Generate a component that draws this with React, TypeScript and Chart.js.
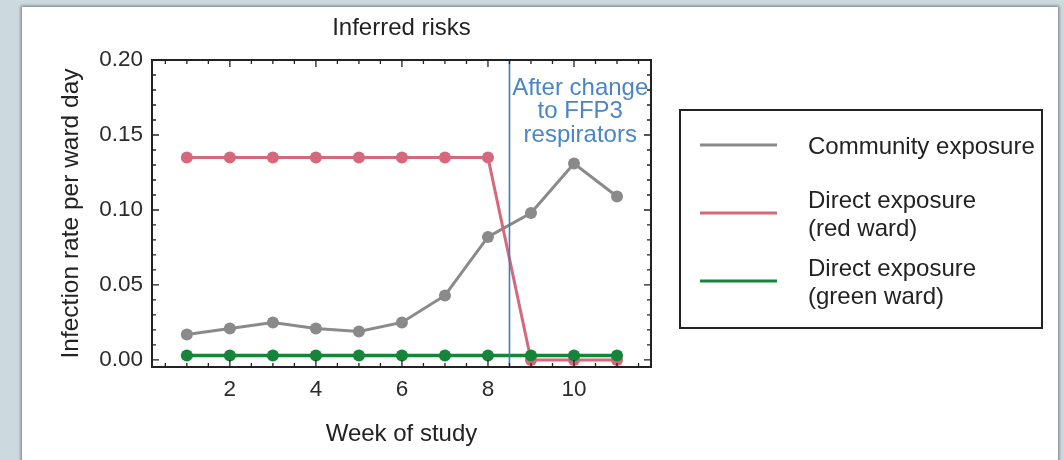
import React, { useEffect, useRef } from "react";
import { Chart, registerables } from "chart.js";

Chart.register(...registerables);

// ---- data ----
const weeks = [1, 2, 3, 4, 5, 6, 7, 8, 9, 10, 11];
const communityExposure = [0.017, 0.021, 0.025, 0.021, 0.019, 0.025, 0.043, 0.082, 0.098, 0.131, 0.109];
const redWardExposure = [0.135, 0.135, 0.135, 0.135, 0.135, 0.135, 0.135, 0.135, 0.0, 0.0, 0.0];
const greenWardExposure = [0.003, 0.003, 0.003, 0.003, 0.003, 0.003, 0.003, 0.003, 0.003, 0.003, 0.003];

const seriesNames = ["Community exposure", "Direct exposure (red ward)", "Direct exposure (green ward)"];
const legendLines = [["Community exposure"], ["Direct exposure", "(red ward)"], ["Direct exposure", "(green ward)"]];
const seriesColors = ["#8a8a8a", "#d6687b", "#16853a"];

const xTickValues = [2, 4, 6, 8, 10];
const xTickLabels = ["2", "4", "6", "8", "10"];
const yTickValues = [0, 0.05, 0.1, 0.15, 0.2];
const yTickLabels = ["0.00", "0.05", "0.10", "0.15", "0.20"];

const chartTitle = "Inferred risks";
const xAxisTitle = "Week of study";
const yAxisTitle = "Infection rate per ward day";

const changeWeek = 8.5;
const annotationLines = ["After change", "to FFP3", "respirators"];

const FONT = "'Liberation Sans', Arial, Helvetica, sans-serif";

const decorPlugin = {
  id: "decor",
  afterDatasetsDraw(chart: any) {
    const ctx = chart.ctx as CanvasRenderingContext2D;
    const { left, right, top, bottom } = chart.chartArea;
    const x = chart.scales.x;
    const y = chart.scales.y;
    ctx.save();

    // vertical change line
    const cx = x.getPixelForValue(changeWeek);
    ctx.strokeStyle = "#3e7dbf";
    ctx.lineWidth = 1.6;
    ctx.beginPath();
    ctx.moveTo(cx, top);
    ctx.lineTo(cx, bottom);
    ctx.stroke();

    // annotation text
    ctx.fillStyle = "#4a85c5";
    ctx.font = `24px ${FONT}`;
    ctx.textAlign = "center";
    ctx.textBaseline = "middle";
    const ax = (cx + right) / 2;
    annotationLines.forEach((t, i) => {
      ctx.fillText(t, ax, top + 28 + i * 23.5);
    });

    // frame
    ctx.strokeStyle = "#222";
    ctx.lineWidth = 2;
    ctx.strokeRect(left, top, right - left, bottom - top);

    // ticks (inward, all four sides)
    ctx.lineWidth = 1.3;
    ctx.beginPath();
    const xmin = x.min, xmax = x.max;
    for (let k = Math.ceil(xmin * 2); k <= Math.floor(xmax * 2); k++) {
      const v = k / 2;
      const major = xTickValues.includes(v);
      const len = major ? 7 : 4;
      const px = x.getPixelForValue(v);
      ctx.moveTo(px, bottom);
      ctx.lineTo(px, bottom - len);
      ctx.moveTo(px, top);
      ctx.lineTo(px, top + len);
    }
    for (let k = 0; k <= 20; k++) {
      const v = k / 100;
      const major = k % 5 === 0;
      const len = major ? 7 : 4;
      const py = y.getPixelForValue(v);
      ctx.moveTo(left, py);
      ctx.lineTo(left + len, py);
      ctx.moveTo(right, py);
      ctx.lineTo(right - len, py);
    }
    ctx.stroke();

    // legend
    const bx = right + 29;
    const by = top + 50;
    const bw = 362;
    const bh = 218;
    ctx.fillStyle = "#fff";
    ctx.fillRect(bx, by, bw, bh);
    ctx.strokeStyle = "#222";
    ctx.lineWidth = 2;
    ctx.strokeRect(bx, by, bw, bh);
    ctx.font = `24px ${FONT}`;
    ctx.textAlign = "left";
    ctx.textBaseline = "middle";
    legendLines.forEach((lines, i) => {
      const cy = by + 35 + i * 68;
      ctx.strokeStyle = seriesColors[i];
      ctx.lineWidth = 3;
      ctx.beginPath();
      ctx.moveTo(bx + 20, cy);
      ctx.lineTo(bx + 97, cy);
      ctx.stroke();
      ctx.fillStyle = "#222";
      const n = lines.length;
      lines.forEach((t, j) => {
        ctx.fillText(t, bx + 128, cy + 2 + (j - (n - 1) / 2) * 28);
      });
    });

    ctx.restore();
  },
};

export default function App() {
  const ref = useRef<HTMLCanvasElement | null>(null);

  useEffect(() => {
    if (!ref.current) return;
    const mk = (vals: number[]) => weeks.map((w, i) => ({ x: w, y: vals[i] }));
    const allSeries = [communityExposure, redWardExposure, greenWardExposure];
    const orders = [3, 2, 1];
    const chart = new Chart(ref.current, {
      type: "line",
      data: {
        datasets: allSeries.map((vals, i) => ({
          label: seriesNames[i],
          data: mk(vals),
          borderColor: seriesColors[i],
          backgroundColor: seriesColors[i],
          pointBackgroundColor: seriesColors[i],
          pointBorderColor: seriesColors[i],
          pointBorderWidth: 0,
          pointRadius: 6,
          borderWidth: i === 2 ? 3.5 : 3,
          tension: 0,
          fill: false,
          order: orders[i],
        })),
      },
      options: {
        responsive: false,
        animation: false,
        devicePixelRatio: 1,
        layout: { padding: { left: 0, right: 407, top: 0, bottom: 0 } },
        plugins: {
          legend: { display: false },
          tooltip: { enabled: false },
          title: {
            display: true,
            text: chartTitle,
            fullSize: false,
            color: "#222",
            font: { family: FONT, size: 24, weight: "normal" },
            padding: { top: 7, bottom: 17.2 },
          },
        },
        scales: {
          x: {
            type: "linear",
            min: 0.19,
            max: 11.79,
            afterBuildTicks: (s: any) => {
              s.ticks = xTickValues.map((v) => ({ value: v }));
            },
            afterFit: (s: any) => {
              s.height = 93;
            },
            grid: { display: false, drawTicks: false },
            border: { display: false },
            ticks: {
              padding: 9,
              color: "#2b2b2b",
              font: { family: FONT, size: 22.5 },
              maxRotation: 0,
              autoSkip: false,
              callback: (v: any) => {
                const i = xTickValues.indexOf(Number(v));
                return i >= 0 ? xTickLabels[i] : "";
              },
            },
            title: {
              display: true,
              text: xAxisTitle,
              color: "#222",
              font: { family: FONT, size: 24 },
              padding: { top: 0, bottom: 11 },
            },
          },
          y: {
            type: "linear",
            min: -0.0047,
            max: 0.2,
            afterBuildTicks: (s: any) => {
              s.ticks = yTickValues.map((v) => ({ value: v }));
            },
            afterFit: (s: any) => {
              s.width = 130;
            },
            grid: { display: false, drawTicks: false },
            border: { display: false },
            ticks: {
              padding: 9,
              color: "#2b2b2b",
              font: { family: FONT, size: 22.5 },
              autoSkip: false,
              callback: (v: any) => {
                const i = yTickValues.findIndex((t) => Math.abs(t - Number(v)) < 1e-9);
                return i >= 0 ? yTickLabels[i] : "";
              },
            },
            title: {
              display: true,
              text: yAxisTitle,
              color: "#222",
              font: { family: FONT, size: 24.5 },
              padding: { top: 34.3, bottom: 0 },
            },
          },
        },
      },
      plugins: [decorPlugin],
    } as any);
    return () => chart.destroy();
  }, []);

  return (
    <div
      style={{
        position: "fixed",
        left: 0,
        top: 0,
        width: 1064,
        height: 460,
        background: "#ccd9de",
        overflow: "hidden",
      }}
    >
      <div
        style={{
          position: "absolute",
          left: 22,
          top: 7,
          width: 1036,
          height: 460,
          background: "#ffffff",
          boxShadow: "0 0 3px 1px rgba(0,0,0,0.45)",
        }}
      >
        <canvas ref={ref} width={1036} height={453} style={{ display: "block" }} />
      </div>
    </div>
  );
}
